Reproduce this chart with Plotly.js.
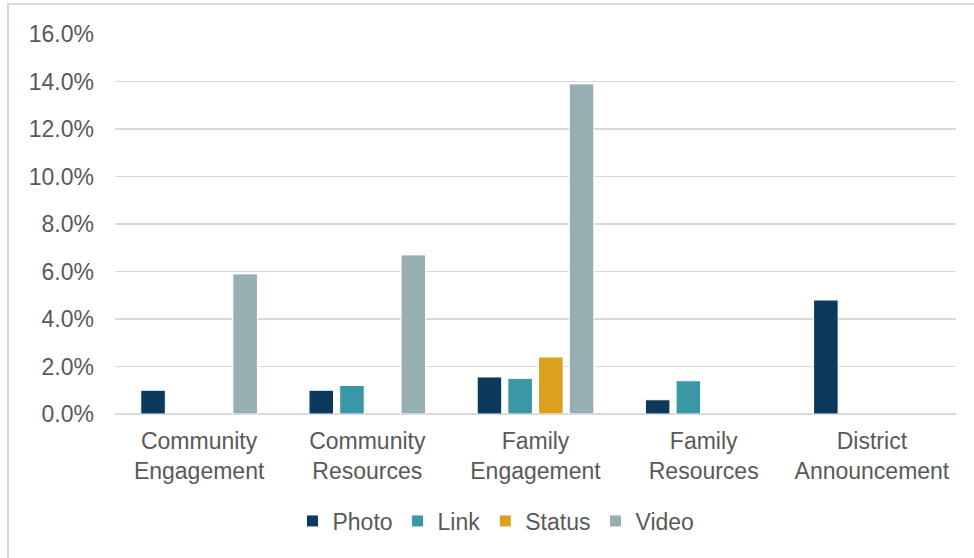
<!DOCTYPE html>
<html>
<head>
<meta charset="utf-8">
<script src="https://cdn.plot.ly/plotly-3.0.1.min.js"></script>
<style>
  html, body { margin: 0; padding: 0; background: #fff; }
  #wrap { position: relative; width: 974px; height: 558px; overflow: hidden; }
  #chart { position: absolute; left: 0; top: 0; width: 974px; height: 558px; }
  #frame { position: absolute; left: 7px; top: 3px; width: 980px; height: 570px;
           border-left: 2px solid #d9d9d9; border-top: 2px solid #d9d9d9; pointer-events: none; }
</style>
</head>
<body>
<div id="wrap">
  <div id="chart"></div>
  <div id="frame"></div>
</div>
<script>
const categories = ["Community<br>Engagement", "Community<br>Resources", "Family<br>Engagement", "Family<br>Resources", "District<br>Announcement"];
const seriesNames = ["Photo", "Link", "Status", "Video"];
const photo  = [1.0, 1.0, 1.56, 0.6, 4.8];
const link   = [null, 1.2, 1.5, 1.4, null];
const status = [null, null, 2.4, null, null];
const video  = [5.9, 6.7, 13.9, null, null];
const colors = ["#0b3a5e", "#3a97a5", "#dba11e", "#97afb3"];

const font = { family: "Liberation Sans, Arial, sans-serif", size: 23, color: "#595959" };
const allValues = [photo, link, status, video];

const traces = seriesNames.map((name, i) => ({
  type: "bar",
  name: name,
  x: categories,
  y: allValues[i],
  marker: { color: colors[i], line: { color: "#ffffff", width: 1 } },
  hoverinfo: "skip"
}));

const layout = {
  width: 974,
  height: 558,
  margin: { l: 115, r: 18, t: 34, b: 144, autoexpand: false },
  paper_bgcolor: "#ffffff",
  plot_bgcolor: "#ffffff",
  font: font,
  barmode: "group",
  bargap: 0.27,
  bargroupgap: 0.2,
  showlegend: true,
  legend: {
    orientation: "h",
    x: 0.453, xanchor: "center",
    y: (558 - 521) / 558, yref: "container", yanchor: "middle",
    font: font,
    itemwidth: 30,
    traceorder: "normal",
    bgcolor: "rgba(0,0,0,0)"
  },
  xaxis: {
    type: "category",
    tickfont: font,
    showgrid: false,
    showline: false,
    ticks: "",
    ticklabelstandoff: 11,
    fixedrange: true
  },
  yaxis: {
    range: [0, 16],
    dtick: 2,
    tick0: 0,
    tickformat: ".1f",
    ticksuffix: "%",
    tickfont: font,
    showgrid: true,
    gridcolor: "#d9d9d9",
    gridwidth: 1.5,
    zeroline: true,
    zerolinecolor: "#d9d9d9",
    zerolinewidth: 1.5,
    showline: false,
    ticks: "",
    ticklabelstandoff: 20,
    fixedrange: true
  }
};

Plotly.newPlot("chart", traces, layout, { displayModeBar: false, staticPlot: true });
</script>
</body>
</html>
